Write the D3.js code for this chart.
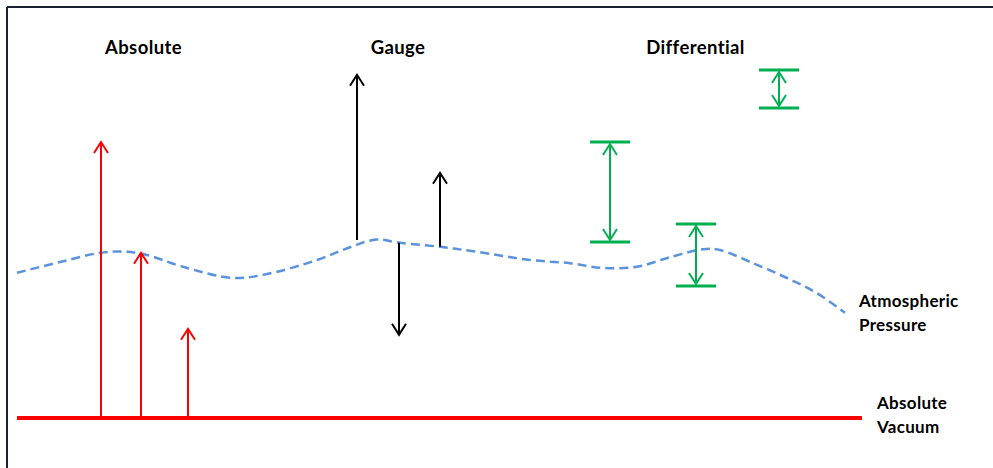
<!DOCTYPE html>
<html>
<head>
<meta charset="utf-8">
<script src="https://cdn.jsdelivr.net/npm/d3@7"></script>
<style>
  html, body { margin: 0; padding: 0; background: #ffffff; }
  svg { display: block; }
  text { font-family: Lato, "Open Sans", sans-serif; font-weight: 700; fill: #000; }
</style>
</head>
<body>
<svg id="chart" width="993" height="468"></svg>
<script>
// ---- data (x in diagram units, pressure in arbitrary units: 0 = absolute vacuum) ----
const titles = ["Absolute", "Gauge", "Differential"];
const atmLabel = ["Atmospheric", "Pressure"];
const vacLabel = ["Absolute", "Vacuum"];

// atmospheric pressure curve: x positions and pressure values
const atmX = [17, 60, 100, 120, 143, 183, 233, 267, 317, 350, 376, 400, 440, 478, 530, 570, 603, 637, 670, 703, 720, 753, 787, 817, 845];
const atmP = [36.3, 39.0, 41.3, 41.6, 41.0, 37.8, 35.0, 36.0, 39.5, 42.7, 44.6, 43.8, 42.8, 41.5, 39.5, 38.7, 37.5, 37.8, 40.2, 42.2, 42.0, 38.7, 35.0, 31.2, 26.3];

// absolute measurements: arrows rising from vacuum
const absX = [101, 141, 188];
const absP = [69.0, 41.3, 22.3];

// gauge measurements: arrows from atmospheric line
const gaugeX = [357, 399, 440];
const gaugeFrom = [44.5, 43.8, 42.8];
const gaugeTo = [85.8, 20.8, 61.3];

// differential measurements: two-sided
const diffX = [610, 696, 779];
const diffLow = [44.0, 33.0, 77.5];
const diffHigh = [69.0, 48.5, 87.0];

const vacuumP = 0;
const vacuumRange = [17, 862];

// ---- scales ----
const svg = d3.select("#chart");
const W = 993, H = 468;
const x = d3.scaleLinear().domain([0, 993]).range([0, 993]);
const y = d3.scaleLinear().domain([0, 100]).range([418, 18]);

// frame
svg.append("line").attr("x1", 7).attr("x2", W).attr("y1", 7).attr("y2", 7)
  .attr("stroke", "#1c2233").attr("stroke-width", 2);
svg.append("line").attr("x1", 7).attr("x2", 7).attr("y1", 7).attr("y2", H)
  .attr("stroke", "#1c2233").attr("stroke-width", 2);

// arrowhead helper (open chevron)
function head(g, px, py, dir, color, sw) {
  const hw = 7, hl = 11;
  g.append("path")
    .attr("d", `M${px - hw},${py - dir * hl}L${px},${py}L${px + hw},${py - dir * hl}`)
    .attr("fill", "none").attr("stroke", color).attr("stroke-width", sw)
    .attr("stroke-linejoin", "miter").attr("stroke-linecap", "butt");
}

// atmospheric curve
const line = d3.line().x(d => x(d[0])).y(d => y(d[1])).curve(d3.curveCatmullRom.alpha(0.5));
svg.append("path")
  .datum(atmX.map((v, i) => [v, atmP[i]]))
  .attr("d", line)
  .attr("fill", "none").attr("stroke", "#5b92dc").attr("stroke-width", 2.5)
  .attr("stroke-dasharray", "9,5");

// absolute vacuum line
svg.append("line")
  .attr("x1", x(vacuumRange[0])).attr("x2", x(vacuumRange[1]))
  .attr("y1", y(vacuumP)).attr("y2", y(vacuumP))
  .attr("stroke", "#ff0000").attr("stroke-width", 4);

// absolute arrows
const gAbs = svg.append("g");
absX.forEach((xv, i) => {
  gAbs.append("line").attr("x1", x(xv)).attr("x2", x(xv))
    .attr("y1", y(vacuumP)).attr("y2", y(absP[i]) + 1)
    .attr("stroke", "#ff0000").attr("stroke-width", 2);
  head(gAbs, x(xv), y(absP[i]), -1, "#ff0000", 2);
});

// gauge arrows
const gG = svg.append("g");
gaugeX.forEach((xv, i) => {
  const up = gaugeTo[i] > gaugeFrom[i];
  gG.append("line").attr("x1", x(xv)).attr("x2", x(xv))
    .attr("y1", y(gaugeFrom[i])).attr("y2", y(gaugeTo[i]) + (up ? 1 : -1))
    .attr("stroke", "#000").attr("stroke-width", 2);
  head(gG, x(xv), y(gaugeTo[i]), up ? -1 : 1, "#000", 2);
});

// differential
const gD = svg.append("g");
const green = "#00b050";
diffX.forEach((xv, i) => {
  const yl = y(diffLow[i]), yh = y(diffHigh[i]);
  gD.append("line").attr("x1", x(xv) - 20).attr("x2", x(xv) + 20).attr("y1", yh).attr("y2", yh)
    .attr("stroke", green).attr("stroke-width", 3);
  gD.append("line").attr("x1", x(xv) - 20).attr("x2", x(xv) + 20).attr("y1", yl).attr("y2", yl)
    .attr("stroke", green).attr("stroke-width", 3);
  gD.append("line").attr("x1", x(xv)).attr("x2", x(xv)).attr("y1", yh + 2).attr("y2", yl - 2)
    .attr("stroke", green).attr("stroke-width", 2);
  head(gD, x(xv), yh + 2, -1, green, 2);
  head(gD, x(xv), yl - 2, 1, green, 2);
});

// titles
const titleX = [143.5, 398, 695.5];
svg.selectAll("text.title").data(titles).enter().append("text")
  .attr("class", "title")
  .attr("x", (d, i) => titleX[i]).attr("y", 54)
  .attr("text-anchor", "middle").attr("font-size", 18.5)
  .attr("letter-spacing", 0.4)
  .text(d => d);

// side labels
svg.selectAll("text.atm").data(atmLabel).enter().append("text")
  .attr("class", "atm").attr("x", 859).attr("y", (d, i) => 307 + i * 23.5)
  .attr("font-size", 17).attr("letter-spacing", 0.3).text(d => d);
svg.selectAll("text.vac").data(vacLabel).enter().append("text")
  .attr("class", "vac").attr("x", 877).attr("y", (d, i) => 409 + i * 24)
  .attr("font-size", 17).attr("letter-spacing", 0.3).text(d => d);
</script>
</body>
</html>
